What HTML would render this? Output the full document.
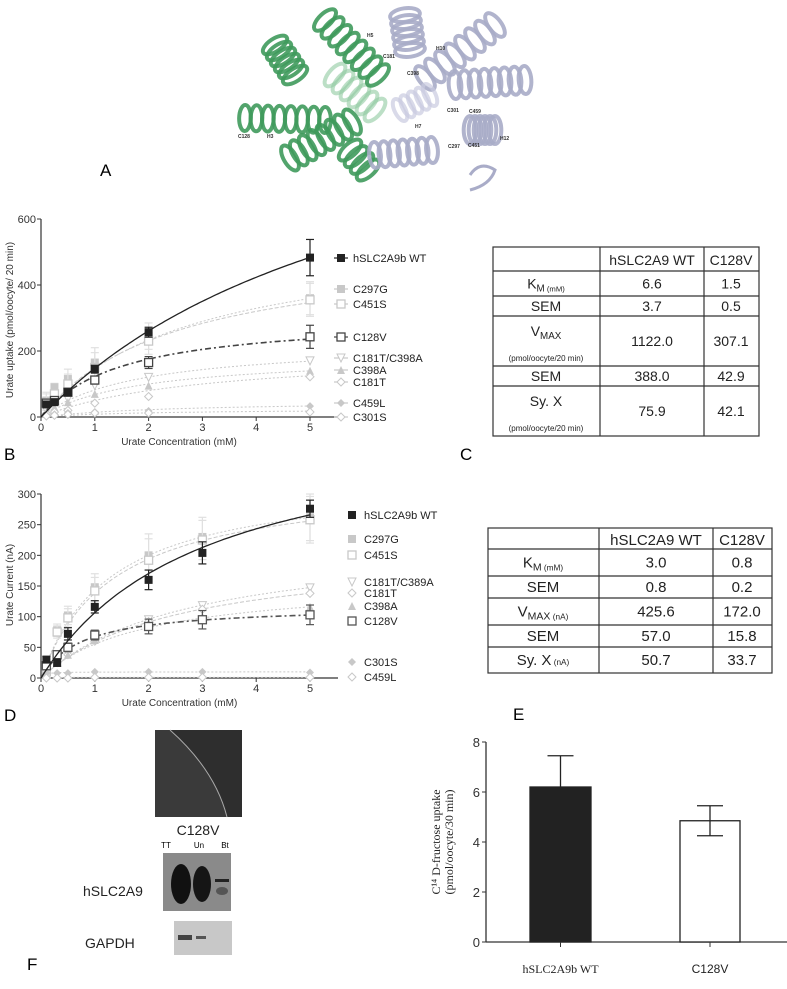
<!DOCTYPE html>
<html><head><meta charset="utf-8"><style>
body{margin:0;background:#fff;}
svg{display:block;font-family:"Liberation Sans",sans-serif;}
</style></head><body>
<svg id="fig" width="787" height="989" viewBox="0 0 787 989" xmlns="http://www.w3.org/2000/svg">
<g id="mol"></g>
<text x="100" y="176" font-size="17">A</text>
<text x="4" y="460" font-size="17">B</text>
<text x="460" y="460" font-size="17">C</text>
<text x="4" y="721" font-size="17">D</text>
<text x="513" y="720" font-size="17">E</text>
<text x="27" y="970" font-size="17">F</text>
<g id="chartB"></g>
<g id="chartD"></g>
<g id="tableC"></g>
<g id="tableE"></g>
<g id="chartE"></g>
<g id="panelF">
  <rect x="155" y="730" width="87" height="87" fill="#2e2e2e"/>
  <path d="M155 730 L170 730 Q215 770 227 817 L155 817Z" fill="#3a3a3a"/>
  <path d="M170 730 Q215 770 227 817" stroke="#aaa" stroke-width="1" fill="none"/>
  <text x="198" y="835" font-size="14" text-anchor="middle" fill="#222">C128V</text>
  <text x="166" y="848" font-size="8" text-anchor="middle">TT</text>
  <text x="199" y="848" font-size="8" text-anchor="middle">Un</text>
  <text x="225" y="848" font-size="8" text-anchor="middle">Bt</text>
  <rect x="163" y="853" width="68" height="58" fill="#8a8a8a"/>
  <ellipse cx="181" cy="884" rx="10" ry="20" fill="#111"/>
  <ellipse cx="202" cy="884" rx="9" ry="18" fill="#151515"/>
  <rect x="215" y="879" width="14" height="3" fill="#222"/>
  <ellipse cx="222" cy="891" rx="6" ry="4" fill="#555"/>
  <text x="83" y="896" font-size="14" fill="#222">hSLC2A9</text>
  <rect x="174" y="921" width="58" height="34" fill="#c8c8c8"/>
  <rect x="178" y="935" width="14" height="5" fill="#444"/>
  <rect x="196" y="936" width="10" height="3" fill="#555"/>
  <text x="85" y="948" font-size="14" fill="#222">GAPDH</text>
</g>
</svg>
<script>
// ===== Panel B data =====
const bX = [0.1, 0.25, 0.5, 1, 2, 5];
const bNames = ["hSLC2A9b WT","C297G","C451S","C128V","C181T/C398A","C398A","C181T","C459L","C301S"];
const bWT = [38, 45, 75, 145, 257, 483];
const bWTerr = [5, 6, 10, 12, 15, 55];
const bC297G = [50, 90, 115, 165, 245, 360];
const bC451S = [45, 70, 100, 150, 230, 355];
const bC128V = [42, 50, 75, 112, 165, 243];
const bC128Verr = [5, 6, 8, 12, 18, 35];
const bC181TC398A = [20, 40, 55, 95, 120, 170];
const bC398A = [15, 30, 45, 70, 95, 140];
const bC181T = [10, 15, 20, 42, 62, 122];
const bC459L = [5, 8, 12, 15, 18, 33];
const bC301S = [3, 5, 8, 12, 12, 15];
const bGrayErr = [25, 12, 30, 45, 40, 50];
const bVmax = [1122, 560, 520, 307.1, 230, 190, 200, 50, 25];
const bKm = [6.6, 2.8, 2.5, 1.5, 1.8, 1.8, 3.0, 2.5, 2.0];
const bYTicks = [0, 200, 400, 600];
const bXTicks = [0, 1, 2, 3, 4, 5];
// ===== Panel D data =====
const dX = [0.1, 0.3, 0.5, 1, 2, 3, 5];
const dNames = ["hSLC2A9b WT","C297G","C451S","C181T/C389A","C181T","C398A","C128V","C301S","C459L"];
const dWT = [30, 25, 72, 116, 160, 204, 276];
const dWTerr = [5, 6, 10, 10, 16, 18, 14];
const dC297G = [15, 78, 102, 148, 200, 230, 262];
const dC451S = [10, 75, 98, 142, 192, 225, 258];
const dC181TC389A = [5, 30, 40, 62, 95, 118, 147];
const dC181T = [5, 25, 38, 60, 92, 112, 138];
const dC398A = [5, 25, 38, 62, 90, 100, 116];
const dC128V = [20, 38, 50, 70, 84, 95, 103];
const dC128Verr = [5, 6, 7, 8, 12, 15, 16];
const dC301S = [8, 8, 8, 10, 10, 10, 9];
const dC459L = [0, 0, 0, 1, 1, 1, 1];
const dGrayErr = [5, 10, 15, 22, 35, 32, 38];
const dVmax = [425.6, 330, 325, 230, 210, 160, 118, 10, 1];
const dKm = [3.0, 1.3, 1.35, 2.8, 2.6, 1.9, 0.75, 0.05, 0.05];
const dYTicks = [0, 50, 100, 150, 200, 250, 300];
const dXTicks = [0, 1, 2, 3, 4, 5];
// ===== Panel E data =====
const eCats = ["hSLC2A9b WT", "C128V"];
const eVals = [6.2, 4.85];
const eErr = [1.25, 0.6];
const eYTicks = [0, 2, 4, 6, 8];
// ===== Tables =====
const tCRows = [["K_M","(mM)"],["SEM",""],["V_MAX","(pmol/oocyte/20 min)"],["SEM",""],["Sy. X","(pmol/oocyte/20 min)"]];
const tCWT = ["6.6","3.7","1122.0","388.0","75.9"];
const tCMut = ["1.5","0.5","307.1","42.9","42.1"];
const tERows = ["K_M (mM)","SEM","V_MAX (nA)","SEM","Sy. X (nA)"];
const tEWT = ["3.0","0.8","425.6","57.0","50.7"];
const tEMut = ["0.8","0.2","172.0","15.8","33.7"];

const NS = "http://www.w3.org/2000/svg";
function el(tag, attrs, parent){const e=document.createElementNS(NS,tag);for(const k in attrs)e.setAttribute(k,attrs[k]);parent.appendChild(e);return e;}

function marker(g, type, x, y, col){
  let m;
  const s=4;
  if(type==="sqf") m=el("rect",{x:x-s,y:y-s,width:2*s,height:2*s,fill:col},g);
  else if(type==="sqo") m=el("rect",{x:x-s,y:y-s,width:2*s,height:2*s,fill:"#fff",stroke:col,"stroke-width":1.3},g);
  else if(type==="tdo") m=el("polygon",{points:`${x-s},${y-s} ${x+s},${y-s} ${x},${y+s}`,fill:"#fff",stroke:col,"stroke-width":1},g);
  else if(type==="tuf") m=el("polygon",{points:`${x-s},${y+s} ${x+s},${y+s} ${x},${y-s}`,fill:col},g);
  else if(type==="dmo") m=el("polygon",{points:`${x},${y-s} ${x+s},${y} ${x},${y+s} ${x-s},${y}`,fill:"#fff",stroke:col,"stroke-width":1},g);
  else m=el("polygon",{points:`${x},${y-s} ${x+s},${y} ${x},${y+s} ${x-s},${y}`,fill:col},g);
  return m;
}

function kinChart(gid, cfg){
  const g=document.getElementById(gid);
  const sx=v=>cfg.x0+v*cfg.xs, sy=v=>cfg.y0-v*cfg.ys;
  const ax=el("line",{x1:cfg.x0,y1:cfg.y0,x2:cfg.xEnd,y2:cfg.y0,stroke:"#333","stroke-width":1.2},g);
  
  
  const ay=el("line",{x1:cfg.x0,y1:cfg.y0,x2:cfg.x0,y2:sy(cfg.yTicks[cfg.yTicks.length-1]),stroke:"#333","stroke-width":1.2},g);
  
  
  cfg.yTicks.forEach(t=>{
    el("line",{x1:cfg.x0-4,y1:sy(t),x2:cfg.x0,y2:sy(t),stroke:"#333"},g);
    const tx=el("text",{x:cfg.x0-5,y:sy(t)+4,"font-size":11,"text-anchor":"end",fill:"#333"},g);
    tx.textContent=t;
    
    
  });
  cfg.xTicks.forEach(t=>{
    el("line",{x1:sx(t),y1:cfg.y0,x2:sx(t),y2:cfg.y0+4,stroke:"#333"},g);
    const tx=el("text",{x:sx(t),y:cfg.y0+14,"font-size":11,"text-anchor":"middle",fill:"#333"},g);
    tx.textContent=t;
    
    
  });
  const xt=el("text",{x:(cfg.x0+cfg.xEnd)/2-10,y:cfg.y0+28,"font-size":10,"text-anchor":"middle",fill:"#333"},g);
  xt.textContent="Urate Concentration (mM)";
  
  
  const yt=el("text",{x:0,y:0,"font-size":10,"text-anchor":"middle",fill:"#333",transform:`translate(13,${cfg.yTitleY}) rotate(-90)`},g);
  yt.textContent=cfg.yTitle;
  
  
  const order=cfg.series.map((s,i)=>i).sort((a,b)=>(cfg.series[a].z||0)-(cfg.series[b].z||0));
  order.forEach(i=>{
    const s=cfg.series[i];
    const sg=el("g",{},g);
    
    
    let d="";
    for(let k=0;k<=100;k++){const x=k*5/100;const y=cfg.vmax[i]*x/(cfg.km[i]+x);d+=(k?"L":"M")+sx(x).toFixed(1)+" "+sy(y).toFixed(1);}
    const p=el("path",{d:d,fill:"none",stroke:s.col,"stroke-width":s.w,"stroke-dasharray":s.dash||"none"},sg);
    
    
    s.vals.forEach((v,k)=>{
      const x=sx(cfg.xs_[k]), y=sy(v);
      const errs=s.err||(s.gerr?cfg.grayErr:null);
      if(errs){const e=errs[k];
        const ec=s.err?s.col:"#e0e0e0";
        el("line",{x1:x,y1:sy(v-e),x2:x,y2:sy(v+e),stroke:ec,"stroke-width":1.2},sg);
        el("line",{x1:x-4,y1:sy(v+e),x2:x+4,y2:sy(v+e),stroke:ec,"stroke-width":1.2},sg);
        el("line",{x1:x-4,y1:sy(v-e),x2:x+4,y2:sy(v-e),stroke:ec,"stroke-width":1.2},sg);}
      const m=marker(sg,s.mk,x,y,s.col);
      
      
    });
    const ly=cfg.legY[i];
    const lg=el("g",{},g);
    
    
    if(cfg.legLine) el("line",{x1:cfg.legX-7,y1:ly,x2:cfg.legX+7,y2:ly,stroke:s.col,"stroke-width":1.2},lg);
    marker(lg,s.mk,cfg.legX,ly,s.col);
    const lt=el("text",{x:cfg.legX+12,y:ly+4,"font-size":11,fill:"#222"},lg);
    lt.textContent=s.name;
  });
}
const LG="#c8c8c8";
kinChart("chartB",{x0:41,xs:53.8,y0:417,ys:0.33,xEnd:337,xs_:bX,yTicks:bYTicks,xTicks:bXTicks,grayErr:bGrayErr,
 yTitle:"Urate uptake (pmol/oocyte/ 20 min)",yTitleY:320,vmax:bVmax,km:bKm,legX:341,legLine:true,
 legY:[258,289,304,337,358,370,382,403,417],
 series:[
  {name:bNames[0],vals:bWT,err:bWTerr,col:"#222",w:1.3,mk:"sqf",z:9},
  {name:bNames[1],vals:bC297G,col:LG,w:1,dash:"2,2",mk:"sqf",gerr:1},
  {name:bNames[2],vals:bC451S,col:LG,w:1,dash:"4,2",mk:"sqo",gerr:1},
  {name:bNames[3],vals:bC128V,err:bC128Verr,col:"#444",w:1.6,dash:"6,3,2,3",mk:"sqo",z:8},
  {name:bNames[4],vals:bC181TC398A,col:LG,w:1,dash:"2,2",mk:"tdo"},
  {name:bNames[5],vals:bC398A,col:LG,w:1,dash:"2,2",mk:"tuf"},
  {name:bNames[6],vals:bC181T,col:LG,w:1,dash:"2,2",mk:"dmo"},
  {name:bNames[7],vals:bC459L,col:LG,w:1,dash:"2,2",mk:"dmf"},
  {name:bNames[8],vals:bC301S,col:LG,w:1,dash:"2,2",mk:"dmo"}]});
kinChart("chartD",{x0:41,xs:53.8,y0:678,ys:0.6133,xEnd:338,xs_:dX,yTicks:dYTicks,xTicks:dXTicks,grayErr:dGrayErr,
 yTitle:"Urate Current (nA)",yTitleY:585,vmax:dVmax,km:dKm,legX:352,legLine:false,
 legY:[515,539,555,582,593,606,621,662,677],
 series:[
  {name:dNames[0],vals:dWT,err:dWTerr,col:"#222",w:1.3,mk:"sqf",z:9},
  {name:dNames[1],vals:dC297G,col:LG,w:1,dash:"2,2",mk:"sqf",gerr:1},
  {name:dNames[2],vals:dC451S,col:LG,w:1,dash:"4,2",mk:"sqo",gerr:1},
  {name:dNames[3],vals:dC181TC389A,col:LG,w:1,dash:"2,2",mk:"tdo"},
  {name:dNames[4],vals:dC181T,col:LG,w:1,dash:"4,2",mk:"dmo"},
  {name:dNames[5],vals:dC398A,col:LG,w:1,dash:"2,2",mk:"tuf"},
  {name:dNames[6],vals:dC128V,err:dC128Verr,col:"#555",w:1.6,dash:"6,3,2,3",mk:"sqo",z:8},
  {name:dNames[7],vals:dC301S,col:LG,w:1,dash:"2,2",mk:"dmf"},
  {name:dNames[8],vals:dC459L,col:LG,w:1,dash:"2,2",mk:"dmo"}]});

function sub(parent,x,y,main,subTxt,fs,anchor){
  const t=el("text",{x:x,y:y,"font-size":fs,"text-anchor":anchor||"middle",fill:"#222"},parent);
  const parts=main.split("_");
  const a=document.createElementNS(NS,"tspan");a.textContent=parts[0];t.appendChild(a);
  if(parts[1]){const b=document.createElementNS(NS,"tspan");b.setAttribute("font-size",fs*0.7);b.setAttribute("dy","3");b.textContent=parts[1];t.appendChild(b);}
  if(subTxt){const c=document.createElementNS(NS,"tspan");c.setAttribute("font-size",fs*0.55);c.textContent=" "+subTxt;t.appendChild(c);}
  return t;
}
(function(){
  const g=document.getElementById("tableC");
  const ys=[247,271,296,316,366,386,436];
  el("rect",{x:493,y:247,width:266,height:189,fill:"#fff",stroke:"#333","stroke-width":1.2},g);
  ys.slice(1,-1).forEach(y=>el("line",{x1:493,y1:y,x2:759,y2:y,stroke:"#333","stroke-width":1.2},g));
  [600,704].forEach(x=>el("line",{x1:x,y1:247,x2:x,y2:436,stroke:"#333","stroke-width":1.2},g));
  let t=el("text",{x:652,y:265,"font-size":14,"text-anchor":"middle",fill:"#222"},g);t.textContent="hSLC2A9 WT";
  
  
  t=el("text",{x:731,y:265,"font-size":14,"text-anchor":"middle",fill:"#222"},g);t.textContent="C128V";
  for(let r=0;r<5;r++){
    const y0=ys[r+1],y1=ys[r+2],cy=(y0+y1)/2+5;
    const [m,s]=tCRows[r];
    if(r===2||r===4){
      sub(g,546,y0+20,m,"",14);
      const st=el("text",{x:546,y:y1-5,"font-size":8,"text-anchor":"middle",fill:"#222"},g);st.textContent=s;
    } else sub(g,546,cy,m,s,14);
    let a=el("text",{x:652,y:cy,"font-size":14,"text-anchor":"middle",fill:"#222"},g);a.textContent=tCWT[r];
    
    
    a=el("text",{x:731,y:cy,"font-size":14,"text-anchor":"middle",fill:"#222"},g);a.textContent=tCMut[r];
  }
})();
(function(){
  const g=document.getElementById("tableE");
  const ys=[528,549,576,598,625,647,673];
  el("rect",{x:488,y:528,width:284,height:145,fill:"#fff",stroke:"#333","stroke-width":1.2},g);
  ys.slice(1,-1).forEach(y=>el("line",{x1:488,y1:y,x2:772,y2:y,stroke:"#333","stroke-width":1.2},g));
  [599,713].forEach(x=>el("line",{x1:x,y1:528,x2:x,y2:673,stroke:"#333","stroke-width":1.2},g));
  let t=el("text",{x:656,y:545,"font-size":15,"text-anchor":"middle",fill:"#222"},g);t.textContent="hSLC2A9 WT";
  
  
  t=el("text",{x:742,y:545,"font-size":15,"text-anchor":"middle",fill:"#222"},g);t.textContent="C128V";
  for(let r=0;r<5;r++){
    const cy=(ys[r+1]+ys[r+2])/2+5;
    const lab=tERows[r];
    const sp=lab.indexOf(" (");
    const main=sp>=0?lab.slice(0,sp):lab, s=sp>=0?lab.slice(sp+1):"";
    sub(g,543,cy,main,s,15);
    let a=el("text",{x:656,y:cy,"font-size":15,"text-anchor":"middle",fill:"#222"},g);a.textContent=tEWT[r];
    
    
    a=el("text",{x:742,y:cy,"font-size":15,"text-anchor":"middle",fill:"#222"},g);a.textContent=tEMut[r];
  }
})();

(function(){
  const g=document.getElementById("chartE");
  const x0=486,y0=942,ys=25,xEnd=787;
  const sy=v=>y0-v*ys;
  const bx=[530,680], bw=[61,60];
  el("line",{x1:x0,y1:y0,x2:xEnd,y2:y0,stroke:"#333","stroke-width":1.3},g);
  el("line",{x1:x0,y1:y0,x2:x0,y2:sy(8),stroke:"#333","stroke-width":1.3},g);
  eYTicks.forEach(t=>{
    el("line",{x1:x0-4,y1:sy(t),x2:x0,y2:sy(t),stroke:"#333"},g);
    const tx=el("text",{x:x0-6,y:sy(t)+5,"font-size":13,"text-anchor":"end",fill:"#333"},g);tx.textContent=t;
    
    
  });
  eVals.forEach((v,i)=>{
    const b=el("rect",{x:bx[i],y:sy(v),width:bw[i],height:v*ys,fill:i===0?"#222":"#fff",stroke:"#222","stroke-width":1.3},g);
    
    
    const cx=bx[i]+bw[i]/2;
    const e=el("line",{x1:cx,y1:sy(v+eErr[i]),x2:cx,y2:sy(i===0?v:v-eErr[i]),stroke:"#222","stroke-width":1.3},g);
    
    
    el("line",{x1:cx-13,y1:sy(v+eErr[i]),x2:cx+13,y2:sy(v+eErr[i]),stroke:"#222","stroke-width":1.3},g);
    if(i>0) el("line",{x1:cx-13,y1:sy(v-eErr[i]),x2:cx+13,y2:sy(v-eErr[i]),stroke:"#222","stroke-width":1.3},g);
    el("line",{x1:cx,y1:y0,x2:cx,y2:y0+5,stroke:"#333"},g);
    const lt=el("text",{x:cx,y:973,"font-size":12,"text-anchor":"middle",fill:"#222","font-family":i===0?"Liberation Serif, serif":"Liberation Sans, sans-serif"},g);
    lt.textContent=eCats[i];
    
    
  });
  const yt=el("text",{x:0,y:0,"font-size":12,"text-anchor":"middle",fill:"#222","font-family":"Liberation Serif, serif",transform:"translate(440,842) rotate(-90)"},g);
  yt.textContent="C¹⁴ D-fructose uptake";
  
  
  const yt2=el("text",{x:0,y:0,"font-size":12,"text-anchor":"middle",fill:"#222","font-family":"Liberation Serif, serif",transform:"translate(453,842) rotate(-90)"},g);
  yt2.textContent="(pmol/oocyte/30 min)";
  
  
})();

(function(){
  const g=document.getElementById("mol");
  function coil(x1,y1,x2,y2,r,col,op,n){
    const dx=x2-x1,dy=y2-y1,ang=Math.atan2(dy,dx)*180/Math.PI;
    for(let k=0;k<n;k++){
      const t=k/(n-1);
      el("ellipse",{cx:x1+dx*t,cy:y1+dy*t,rx:r*0.45,ry:r,fill:"none",stroke:col,"stroke-width":4,opacity:op,transform:`rotate(${ang} ${x1+dx*t} ${y1+dy*t})`},g);
    }
  }
  const G="#3f9a5c", GL="#8fc9a0", P="#a9acc8", PL="#c9cbe0";
  coil(335,75,375,110,14,GL,0.6,6);
  coil(275,45,295,75,14,G,0.9,6);
  coil(325,20,378,75,14,G,0.9,8);
  coil(245,118,325,120,13,G,0.9,8);
  coil(290,158,352,122,14,G,0.9,8);
  coil(350,150,368,170,14,G,0.9,4);
  coil(405,15,410,50,15,P,0.9,6);
  coil(425,78,495,25,14,P,0.9,8);
  coil(455,85,525,80,14,P,0.9,8);
  coil(375,155,432,150,13,P,0.9,7);
  coil(470,130,495,130,14,P,0.9,6);
  coil(400,110,430,95,12,PL,0.7,5);
  el("path",{d:"M470 175 Q480 160 495 170 Q490 185 470 190",fill:"none",stroke:P,"stroke-width":3},g);
  const labs=[["H5",367,37],["C181",383,58],["H10",436,50],["C398",407,75],["C301",447,112],["C459",469,113],["H7",415,128],["C297",448,148],["C451",468,147],["H12",500,140],["C128",238,138],["H3",267,138]];
  labs.forEach(l=>{const t=el("text",{x:l[1],y:l[2],"font-size":5,"font-weight":"bold",fill:"#333"},g);t.textContent=l[0];});
})();
</script>
</body></html>
